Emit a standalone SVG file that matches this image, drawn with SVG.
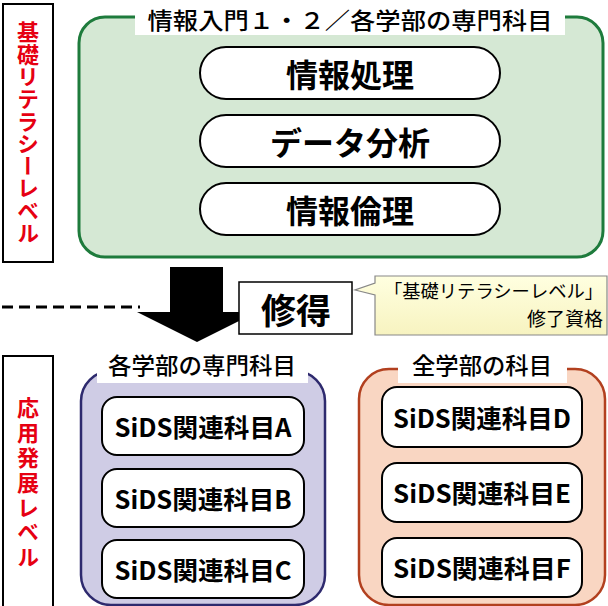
<svg xmlns="http://www.w3.org/2000/svg" width="608" height="606" viewBox="0 0 608 606">
<defs>
<linearGradient id="note" x1="0" y1="0" x2="0" y2="1">
<stop offset="0" stop-color="#ffffe0"/>
<stop offset="1" stop-color="#f7f3c0"/>
</linearGradient>
</defs>
<style>
text{font-family:"Noto Sans CJK JP","Noto Sans",sans-serif;fill:#000}
.lvl{fill:#e60012;font-weight:700;font-size:22px;writing-mode:vertical-rl}
.lvlbox{fill:#fff;stroke:#000;stroke-width:2}
.title{font-size:23px;font-weight:500;text-anchor:middle;dominant-baseline:central}
.tbg{fill:#fff}
.pill{fill:#fff;stroke:#000;stroke-width:2}
.ptxt{font-size:32px;font-weight:700;text-anchor:middle;dominant-baseline:central}
.sbox{fill:#fff;stroke:#000;stroke-width:2}
.stxt{font-size:25px;font-weight:700;text-anchor:middle;dominant-baseline:central}
</style>

<g id="level-basic">
<rect class="lvlbox" x="3" y="4" width="50" height="258"/>
<text class="lvl" x="28" y="21">基</text>
<text class="lvl" x="28" y="43.3">礎</text>
<text class="lvl" x="28" y="65.6">リ</text>
<text class="lvl" x="28" y="87.9">テ</text>
<text class="lvl" x="28" y="110.2">ラ</text>
<text class="lvl" x="28" y="132.5">シ</text>
<text class="lvl" x="28" y="154.8">ー</text>
<text class="lvl" x="28" y="177.1">レ</text>
<text class="lvl" x="28" y="199.4">ベ</text>
<text class="lvl" x="28" y="221.7">ル</text>
</g>

<g id="group-basic">
<rect x="79" y="17" width="524" height="240" rx="26" fill="#d5e8d4" stroke="#1e7b3c" stroke-width="3"/>
<rect class="tbg" x="135" y="4" width="430" height="31"/>
<text class="title" x="350" y="19" textLength="405" lengthAdjust="spacingAndGlyphs">情報入門１・２／各学部の専門科目</text>
</g>

<g id="node-joho-shori">
<rect class="pill" x="200" y="47" width="300" height="52" rx="26"/>
<text class="ptxt" x="350" y="73">情報処理</text>
</g>
<g id="node-data">
<rect class="pill" x="200" y="115" width="300" height="52" rx="26"/>
<text class="ptxt" x="350" y="141">データ分析</text>
</g>
<g id="node-rinri">
<rect class="pill" x="200" y="183" width="300" height="52" rx="26"/>
<text class="ptxt" x="350" y="209">情報倫理</text>
</g>

<g id="connectors">
<line x1="2" y1="307" x2="140" y2="307" stroke="#000" stroke-width="3" stroke-dasharray="11 6"/>
<polygon points="170,267 223,267 223,312 257,312 197,342 137,312 170,312" fill="#000"/>
</g>

<g id="node-shutoku">
<rect x="239" y="282" width="113" height="52" fill="#fff" stroke="#000" stroke-width="1.5"/>
<text x="296" y="308" font-size="35" font-weight="700" text-anchor="middle" dominant-baseline="central">修得</text>
</g>

<g id="note-callout">
<path d="M375,276 H607 V335 H375 V295 L355,290 L375,283 Z" fill="url(#note)" stroke="#888" stroke-width="1.2"/>
<text x="384" y="298" font-size="18" textLength="219" lengthAdjust="spacingAndGlyphs">「基礎リテラシーレベル」</text>
<text x="603" y="326" font-size="19" text-anchor="end">修了資格</text>
</g>

<g id="level-applied">
<rect class="lvlbox" x="3" y="356" width="50" height="256"/>
<text class="lvl" x="28" y="397">応</text>
<text class="lvl" x="28" y="421.8">用</text>
<text class="lvl" x="28" y="446.6">発</text>
<text class="lvl" x="28" y="471.4">展</text>
<text class="lvl" x="28" y="496.2">レ</text>
<text class="lvl" x="28" y="521">ベ</text>
<text class="lvl" x="28" y="545.8">ル</text>
</g>

<g id="group-faculty">
<rect x="81" y="371" width="244" height="234" rx="30" fill="#cfcce5" stroke="#2e2a6e" stroke-width="2.5"/>
<rect class="tbg" x="97" y="352" width="211" height="31"/>
<text class="title" x="202" y="364" textLength="188" lengthAdjust="spacingAndGlyphs">各学部の専門科目</text>
</g>
<g id="group-all">
<rect x="359" y="369" width="246" height="236" rx="30" fill="#f9d6c2" stroke="#b2401f" stroke-width="2.5"/>
<rect class="tbg" x="398" y="352" width="169" height="31"/>
<text class="title" x="482" y="364" textLength="140" lengthAdjust="spacingAndGlyphs">全学部の科目</text>
</g>

<g id="node-a">
<rect class="sbox" x="102" y="397" width="202" height="58" rx="15"/>
<text class="stxt" x="203" y="426" textLength="177" lengthAdjust="spacingAndGlyphs">SiDS関連科目A</text>
</g>
<g id="node-b">
<rect class="sbox" x="102" y="469" width="202" height="58" rx="15"/>
<text class="stxt" x="203" y="498" textLength="177" lengthAdjust="spacingAndGlyphs">SiDS関連科目B</text>
</g>
<g id="node-c">
<rect class="sbox" x="102" y="540" width="202" height="58" rx="15"/>
<text class="stxt" x="203" y="569" textLength="177" lengthAdjust="spacingAndGlyphs">SiDS関連科目C</text>
</g>
<g id="node-d">
<rect class="sbox" x="382" y="387" width="200" height="60" rx="15"/>
<text class="stxt" x="482" y="417" textLength="178" lengthAdjust="spacingAndGlyphs">SiDS関連科目D</text>
</g>
<g id="node-e">
<rect class="sbox" x="382" y="463" width="200" height="59" rx="15"/>
<text class="stxt" x="482" y="492" textLength="178" lengthAdjust="spacingAndGlyphs">SiDS関連科目E</text>
</g>
<g id="node-f">
<rect class="sbox" x="382" y="538" width="200" height="59" rx="15"/>
<text class="stxt" x="482" y="567" textLength="178" lengthAdjust="spacingAndGlyphs">SiDS関連科目F</text>
</g>
</svg>
